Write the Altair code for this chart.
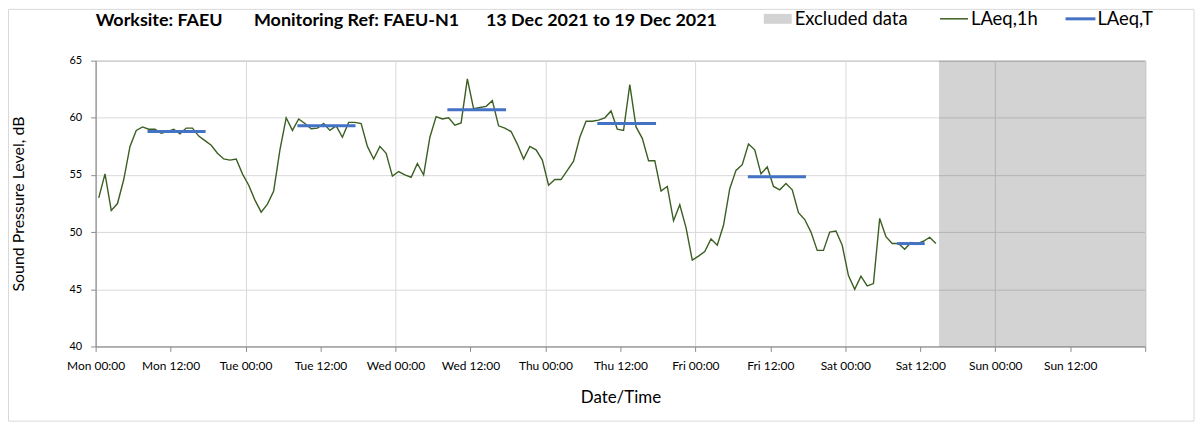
import json
import altair as alt
import pandas as pd

# ---------------- data ----------------
x_tick_labels = ["Mon 00:00", "Mon 12:00", "Tue 00:00", "Tue 12:00", "Wed 00:00", "Wed 12:00",
                 "Thu 00:00", "Thu 12:00", "Fri 00:00", "Fri 12:00", "Sat 00:00", "Sat 12:00",
                 "Sun 00:00", "Sun 12:00", ""]

laeq_1h = [53.0, 55.1, 51.9, 52.5, 54.6, 57.5, 58.9, 59.2, 59.0, 59.0,
           58.65, 58.8, 59.0, 58.6, 59.1, 59.1, 58.4, 58.0, 57.6, 56.9,
           56.4, 56.3, 56.4, 55.1, 54.1, 52.8, 51.75, 52.45, 53.6, 57.2,
           60.0, 58.9, 59.9, 59.5, 59.05, 59.1, 59.5, 58.9, 59.3, 58.3,
           59.6, 59.6, 59.5, 57.5, 56.4, 57.5, 56.9, 54.9, 55.3, 55.0,
           54.8, 56.0, 55.0, 58.3, 60.1, 59.9, 60.0, 59.35, 59.55, 63.4,
           60.8, 60.9, 61.0, 61.5, 59.3, 59.1, 58.8, 57.7, 56.4, 57.5,
           57.2, 56.3, 54.1, 54.6, 54.6, 55.4, 56.2, 58.3, 59.7, 59.7,
           59.8, 60.0, 60.6, 59.0, 58.9, 62.9, 59.2, 58.2, 56.25, 56.25,
           53.6, 54.0, 51.0, 52.4, 50.4, 47.55, 47.9, 48.3, 49.4, 48.85,
           50.6, 53.8, 55.4, 55.9, 57.7, 57.2, 55.1, 55.7, 54.0, 53.7,
           54.25, 53.7, 51.7, 51.1, 50.0, 48.4, 48.4, 50.0, 50.1, 48.85,
           46.2, 45.0, 46.15, 45.3, 45.5, 51.2, 49.6, 49.0, 49.0, 48.5,
           49.1, 49.0, 49.2, 49.55, 49.0]
# hours since Mon 00:00 (hourly values, mid-hour)
hours = [i + 0.5 for i in range(len(laeq_1h))]

laeqT_start = [8.3, 32.3, 56.3, 80.3, 104.4, 128.3]
laeqT_end = [17.6, 41.6, 65.7, 89.7, 113.7, 132.7]
laeqT_value = [58.8, 59.3, 60.7, 59.5, 54.85, 49.0]

excluded_start = [135]
excluded_end = [168]

title_parts = ["Worksite: FAEU", "Monitoring Ref: FAEU-N1", "13 Dec 2021 to 19 Dec 2021"]
legend_labels = ["Excluded data", "LAeq,1h", "LAeq,T"]

# ---------------- chart ----------------
FONT = "Lato"
W, H = 1054, 287
GREEN = "#3b5e22"
BLUE = "#4472c4"
AXIS_GREY = "#8c8c8c"

df_line = pd.DataFrame({"h": hours, "v": laeq_1h})
df_T = pd.DataFrame({"start": laeqT_start, "end": laeqT_end, "v": laeqT_value})
df_ex = pd.DataFrame({"start": excluded_start, "end": excluded_end, "lo": [40], "hi": [65]})

label_expr = json.dumps(x_tick_labels) + "[round(datum.value/12)]"

x_axis = alt.Axis(
    values=list(range(0, 169, 12)),
    labelExpr=label_expr,
    labelOverlap=False,
    labelFlush=False,
    title="Date/Time",
    grid=True,
    gridColor="#d9d9d9",
    gridOpacity={"condition": {"test": "datum.value % 24 === 0", "value": 1}, "value": 0},
    domainColor=AXIS_GREY,
    tickColor=AXIS_GREY,
    tickSize=5,
    labelFont=FONT,
    labelFontSize=12,
    labelColor="#000000",
    labelPadding=9,
    titleFont=FONT,
    titleFontSize=17,
    titleFontWeight="normal",
    titleColor="#000000",
    titleY=51,
    titleBaseline="middle",
)
y_axis = alt.Axis(
    values=[40, 45, 50, 55, 60, 65],
    title="Sound Pressure Level, dB",
    grid=True,
    gridColor="#d9d9d9",
    domainColor=AXIS_GREY,
    tickColor=AXIS_GREY,
    tickSize=5,
    labelFont=FONT,
    labelFontSize=11,
    labelColor="#000000",
    labelPadding=9,
    titleFont=FONT,
    titleFontSize=16,
    titleFontWeight="normal",
    titleColor="#000000",
    titleX=-77,
    titleBaseline="middle",
)
xscale = alt.Scale(domain=[0, 168], nice=False, zero=False)
yscale = alt.Scale(domain=[40, 65], nice=False, zero=False)

excluded = alt.Chart(df_ex).mark_rect(color="#000000", opacity=0.172).encode(
    x=alt.X("start:Q", scale=xscale, axis=x_axis),
    x2="end:Q",
    y=alt.Y("lo:Q", scale=yscale, axis=y_axis),
    y2="hi:Q",
)

line = alt.Chart(df_line).mark_line(color=GREEN, strokeWidth=1.4).encode(
    x=alt.X("h:Q", scale=xscale, axis=x_axis),
    y=alt.Y("v:Q", scale=yscale, axis=y_axis),
)

laeqT = alt.Chart(df_T).mark_rule(color=BLUE, strokeWidth=3, strokeCap="butt").encode(
    x=alt.X("start:Q", scale=xscale, axis=x_axis),
    x2="end:Q",
    y=alt.Y("v:Q", scale=yscale, axis=y_axis),
)


def txt(s, x, y, size, weight="normal", align="left"):
    return alt.Chart(pd.DataFrame({"t": [s]})).mark_text(
        font=FONT, fontSize=size, fontWeight=weight, align=align, baseline="middle", color="#000000"
    ).encode(text="t:N", x=alt.value(x), y=alt.value(y))


TY = -40
title_layers = [
    txt(title_parts[0], 0, TY, 18, "bold"),
    txt(title_parts[1], 159, TY, 18, "bold"),
    txt(title_parts[2], 392, TY, 18, "bold"),
]

LY = -42
one = pd.DataFrame({"k": [0]})
leg_rect = alt.Chart(one).mark_rect(color="#d3d3d3").encode(
    x=alt.value(671), x2=alt.value(699), y=alt.value(LY - 5), y2=alt.value(LY + 5)
)
leg_green = alt.Chart(one).mark_rule(color=GREEN, strokeWidth=1.5).encode(
    x=alt.value(848), x2=alt.value(876), y=alt.value(LY)
)
leg_blue = alt.Chart(one).mark_rule(color=BLUE, strokeWidth=3).encode(
    x=alt.value(974), x2=alt.value(1004), y=alt.value(LY)
)
legend_layers = [
    leg_rect, leg_green, leg_blue,
    txt(legend_labels[0], 702, LY, 18.5),
    txt(legend_labels[1], 879, LY, 18.5),
    txt(legend_labels[2], 1006, LY, 18.5),
]

border = alt.Chart(one).mark_rect(fill=None, stroke="#d9d9d9", strokeWidth=1).encode(
    x=alt.value(-87.5), x2=alt.value(1103), y=alt.value(-51.5), y2=alt.value(362)
)

chart = alt.layer(
    excluded, line, laeqT, *title_layers, *legend_layers, border
).properties(
    width=W,
    height=H,
    padding={"left": 88, "top": 52, "right": 50, "bottom": 76},
    autosize=alt.AutoSizeParams(type="none"),
).configure_view(stroke="#a6a6a6", strokeWidth=1)

chart.save("out.html", embed_options={"renderer": "svg", "actions": False})
